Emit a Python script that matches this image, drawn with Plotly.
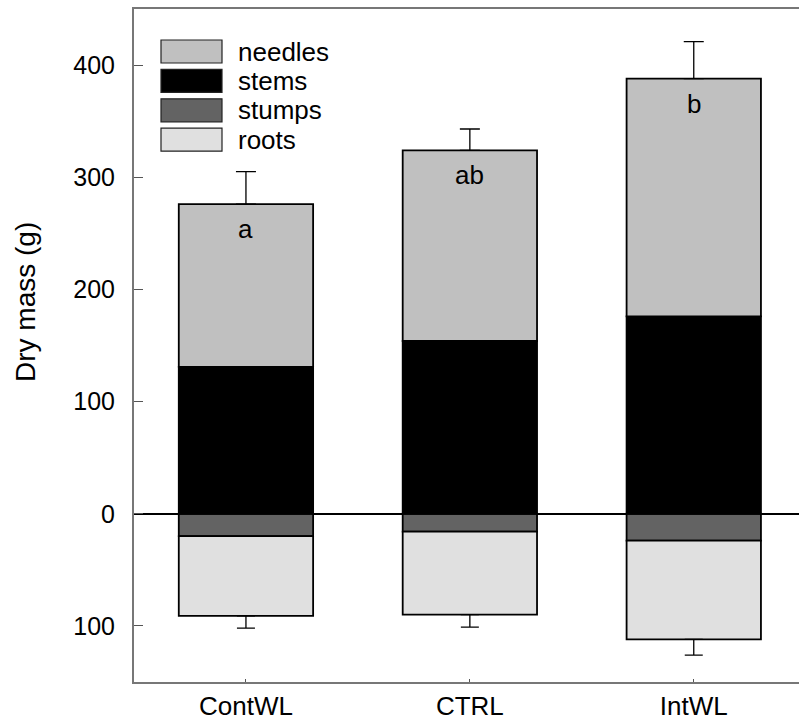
import plotly.graph_objects as go

# Biomass components per treatment (g dry mass)
treatments = ["ContWL", "CTRL", "IntWL"]
needles = [145, 170, 212]
stems = [131, 154, 176]
stumps = [20, 16, 24]
roots = [71, 74, 88]
# SE of total above-ground and total below-ground mass
se_above = [29, 19, 33]
se_below = [11, 11, 14]
letters = ["a", "ab", "b"]

ytick_vals = [-100, 0, 100, 200, 300, 400]
ytick_text = ["100", "0", "100", "200", "300", "400"]

W, H = 799, 727
ML, MR, MT, MB = 134, 0, 9, 45
FONT = "Liberation Sans, Arial, sans-serif"

colors = {"needles": "#c0c0c0", "stems": "#000000", "stumps": "#636363", "roots": "#e0e0e0"}
bar_line = dict(color="black", width=1.8)
BW = 0.6

fig = go.Figure()
zeros = [0] * len(treatments)

# below-ground parts as negative values
fig.add_bar(x=treatments, y=[-v for v in stumps], width=BW, name="stumps",
            marker=dict(color=colors["stumps"], line=bar_line))
fig.add_bar(x=treatments, y=[-v for v in roots], width=BW, name="roots",
            marker=dict(color=colors["roots"], line=bar_line),
            error_y=dict(type="data", symmetric=False, array=zeros, arrayminus=se_below,
                         color="black", thickness=1.3, width=9))
# above-ground parts
fig.add_bar(x=treatments, y=stems, width=BW, name="stems",
            marker=dict(color=colors["stems"], line=bar_line))
fig.add_bar(x=treatments, y=needles, width=BW, name="needles",
            marker=dict(color=colors["needles"], line=bar_line),
            error_y=dict(type="data", symmetric=False, array=se_above, arrayminus=zeros,
                         color="black", thickness=1.3, width=10))

# significance letters just below each bar top
for t, n, s, lab in zip(treatments, needles, stems, letters):
    fig.add_annotation(x=t, y=n + s, text=lab, showarrow=False, yshift=-25,
                       font=dict(family=FONT, size=26, color="black"))

# pixel -> paper conversion for the plot area
pw = W - ML - MR
ph = H - MT - MB


def px_x(v):
    return (v - ML) / pw


def px_y(v):
    return 1 - (v - MT) / ph


# legend drawn as boxes with labels in the upper-left corner
legend_items = ["needles", "stems", "stumps", "roots"]
for i, name in enumerate(legend_items):
    top = 40 + i * 29.4
    fig.add_shape(type="rect", xref="paper", yref="paper",
                  x0=px_x(161), x1=px_x(222), y0=px_y(top), y1=px_y(top + 23),
                  fillcolor=colors[name], line=dict(color="#222", width=1.2))
    fig.add_annotation(xref="paper", yref="paper", x=px_x(236), y=px_y(top + 11.5),
                       text=name, showarrow=False, xanchor="left", yanchor="middle",
                       font=dict(family=FONT, size=26, color="black"))

# y-axis title
fig.add_annotation(xref="paper", yref="paper", x=px_x(25), y=px_y(302),
                   text="Dry mass (g)", textangle=-90, showarrow=False,
                   xanchor="center", yanchor="middle",
                   font=dict(family=FONT, size=28, color="black"))

fig.update_layout(
    barmode="relative",
    width=W, height=H,
    margin=dict(l=ML, r=MR, t=MT, b=MB),
    plot_bgcolor="white", paper_bgcolor="white",
    showlegend=False,
    font=dict(family=FONT, color="black"),
)
fig.update_xaxes(range=[-0.5, 2.47], showline=True, linecolor="#777", linewidth=2,
                 mirror=True, ticks="inside", ticklen=3, tickcolor="#555",
                 tickfont=dict(family=FONT, size=26), showgrid=False)
fig.update_yaxes(range=[-150, 450], tickvals=ytick_vals, ticktext=ytick_text,
                 showline=True, linecolor="#777", linewidth=2,
                 ticks="inside", ticklen=9, tickcolor="#555", ticklabelstandoff=12,
                 tickfont=dict(family=FONT, size=25), showgrid=False,
                 zeroline=True, zerolinecolor="black", zerolinewidth=1.8)

fig.write_html("out.html")
